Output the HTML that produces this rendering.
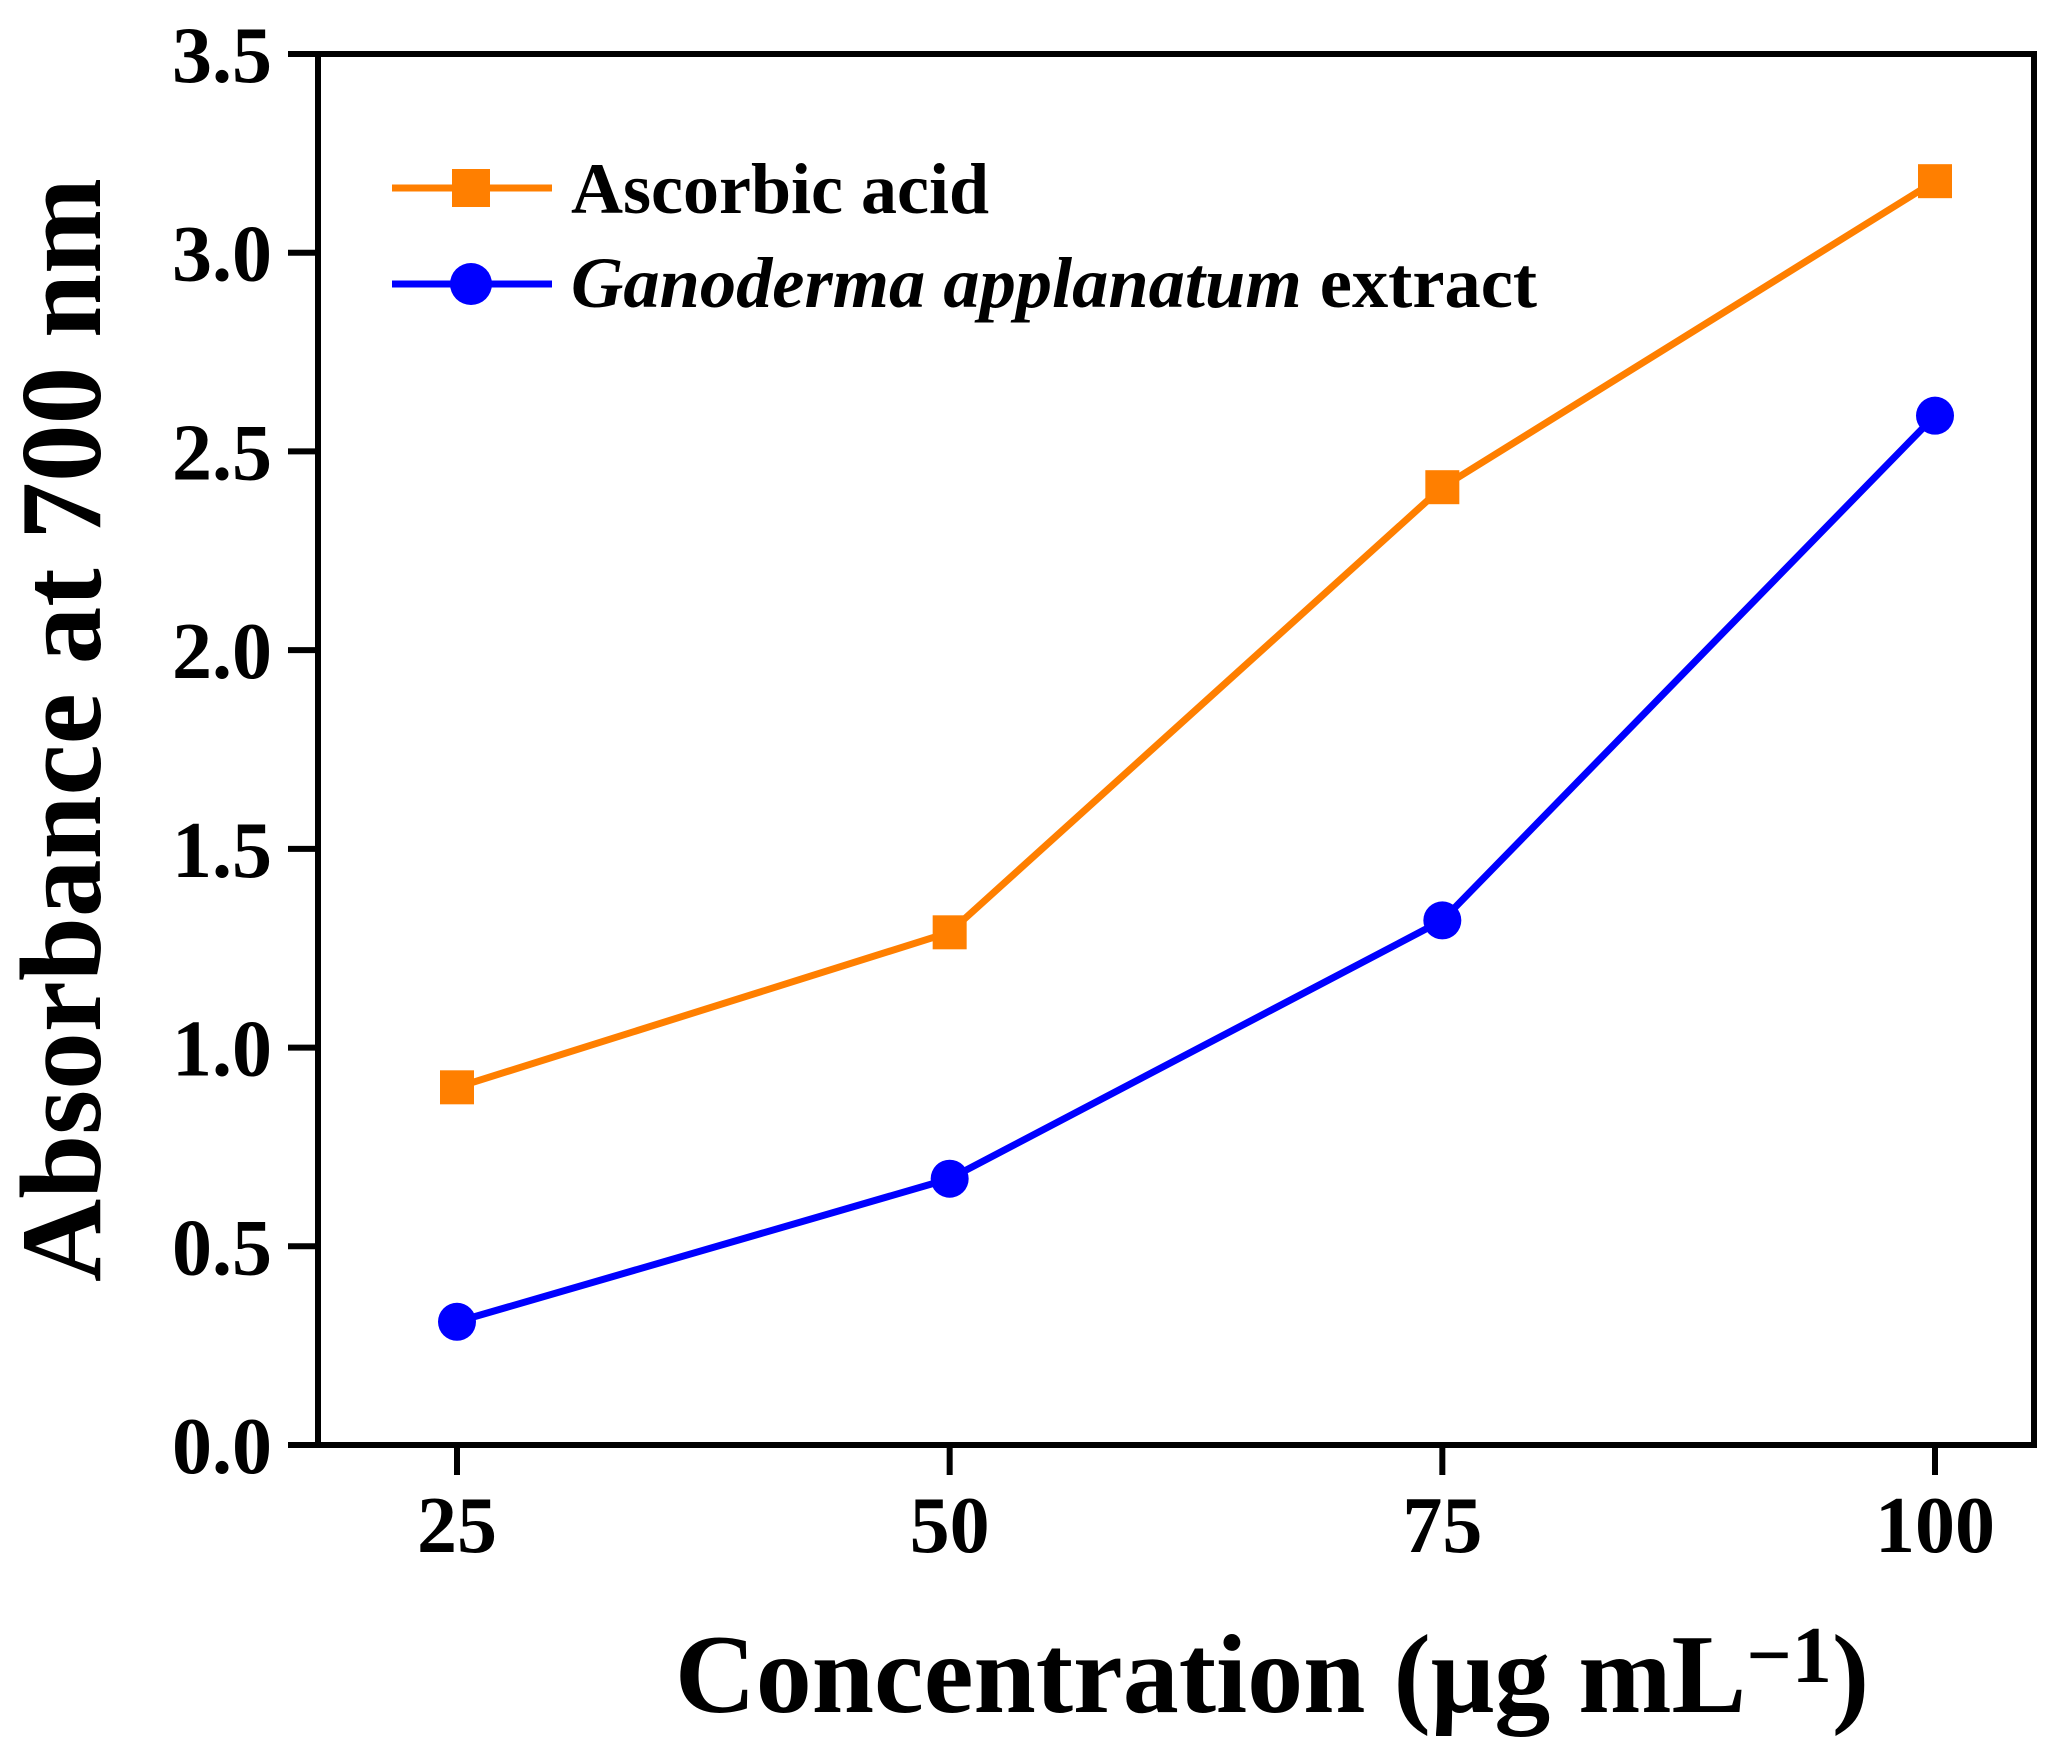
<!DOCTYPE html>
<html><head><meta charset="utf-8"><style>
html,body{margin:0;padding:0;background:#fff;}
svg{display:block;}
text{font-family:"Liberation Serif",serif;font-weight:bold;fill:#000;}
</style></head><body>
<svg id="chart" width="2062" height="1744" viewBox="0 0 2062 1744" xmlns="http://www.w3.org/2000/svg">
</svg>
<script>
const categories = [25, 50, 75, 100];
const ascorbicValues = [0.90, 1.29, 2.41, 3.18];
const ganodermaValues = [0.31, 0.67, 1.32, 2.59];
const yTickLabels = ["0.0","0.5","1.0","1.5","2.0","2.5","3.0","3.5"];
const yTickValues = [0,0.5,1.0,1.5,2.0,2.5,3.0,3.5];
const xTickLabels = ["25","50","75","100"];

const NS = "http://www.w3.org/2000/svg";
const svg = document.getElementById('chart');
const L = 318, R = 2034, T = 54, B = 1445;
function xScale(v){ return 457 + (v - 25) * (1935 - 457) / 75; }
function yScale(v){ return B - v * (B - T) / 3.5; }
function mk(tag, attrs, parent){
  const e = document.createElementNS(NS, tag);
  for (const k in attrs) e.setAttribute(k, attrs[k]);
  (parent || svg).appendChild(e);
  return e;
}

const frame = mk('rect', {x:L, y:T, width:R-L, height:B-T, fill:'none', stroke:'#000', 'stroke-width':6});



yTickValues.forEach((v, i) => {
  const y = yScale(v);
  const t = mk('line', {x1:288, x2:L, y1:y, y2:y, stroke:'#000', 'stroke-width':6});
  
  
  const lb = mk('text', {x:272, y:y+28, 'text-anchor':'end', 'font-size':80});
  
  
  lb.textContent = yTickLabels[i];
});
categories.forEach((c, i) => {
  const x = xScale(c);
  const t = mk('line', {x1:x, x2:x, y1:B, y2:1475, stroke:'#000', 'stroke-width':6});
  
  
  const lb = mk('text', {x:x, y:1552, 'text-anchor':'middle', 'font-size':80});
  
  
  lb.textContent = xTickLabels[i];
});

const yt = mk('text', {x:0, y:0, 'text-anchor':'middle', 'font-size':115, transform:'translate(100,730) rotate(-90)', textLength:1104, lengthAdjust:'spacingAndGlyphs'});


yt.textContent = 'Absorbance at 700 nm';
const xt = mk('text', {x:1272, y:1712, 'text-anchor':'middle', 'font-size':112});


xt.innerHTML = 'Concentration (\u03bcg mL<tspan baseline-shift="38%" font-size="80">\u22121</tspan>)';

function drawSeries(vals, color, shape, name){
  const pts = vals.map((v, i) => xScale(categories[i]) + ',' + yScale(v)).join(' ');
  const pl = mk('polyline', {points:pts, fill:'none', stroke:color, 'stroke-width':7});
  
  
  vals.forEach((v, i) => {
    const x = xScale(categories[i]), y = yScale(v);
    let m;
    if (shape === 'square') m = mk('rect', {x:x-17, y:y-17, width:34, height:34, fill:color});
    else m = mk('circle', {cx:x, cy:y, r:19, fill:color});
    
    
  });
}
drawSeries(ascorbicValues, '#ff7f00', 'square', 'ascorbic-acid');
drawSeries(ganodermaValues, '#0000ff', 'circle', 'ganoderma-extract');

const l1 = mk('line', {x1:392, x2:552, y1:188, y2:188, stroke:'#ff7f00', 'stroke-width':7});


const s1 = mk('rect', {x:452, y:169, width:38, height:38, fill:'#ff7f00'});


const t1 = mk('text', {x:571, y:213, 'font-size':72, textLength:418, lengthAdjust:'spacingAndGlyphs'});


t1.textContent = 'Ascorbic acid';
const l2 = mk('line', {x1:392, x2:552, y1:284, y2:284, stroke:'#0000ff', 'stroke-width':7});


const c2 = mk('circle', {cx:471, cy:284, r:21, fill:'#0000ff'});


const t2 = mk('text', {x:571, y:307, 'font-size':72, textLength:966, lengthAdjust:'spacingAndGlyphs'});


t2.innerHTML = '<tspan font-style="italic">Ganoderma applanatum</tspan> extract';
</script>
</body></html>
